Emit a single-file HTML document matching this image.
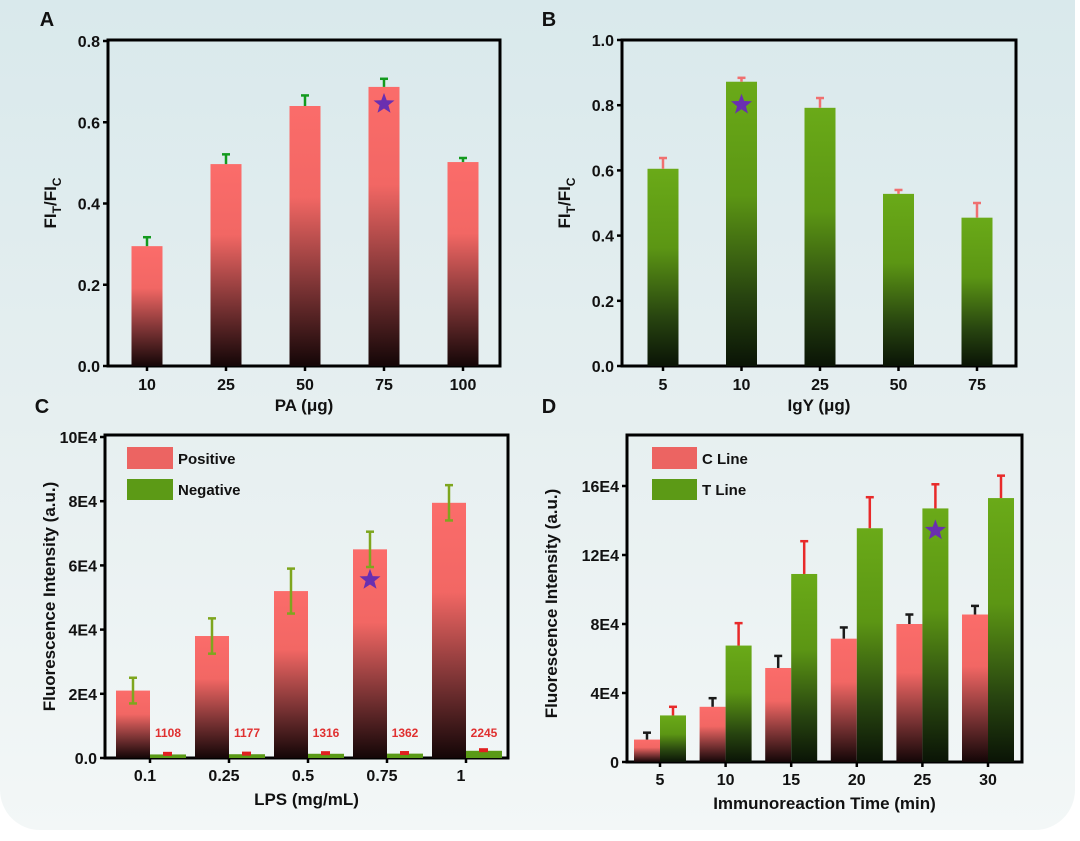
<!DOCTYPE html>
<html><head><meta charset="utf-8"><style>
html,body{margin:0;padding:0;background:#fff}
#wrap{position:relative;width:1080px;height:841px;overflow:hidden;background:#fff}
#bg{position:absolute;left:0;top:0;width:1075px;height:830px;border-radius:0 0 40px 40px;background:linear-gradient(180deg,#d9e9ec 0%,#e6eff0 50%,#f3f7f7 100%)}
svg{position:absolute;left:0;top:0}
text{font-family:"Liberation Sans",sans-serif;font-weight:bold;fill:#111}
text.red{fill:#e03030}
</style></head><body>
<div id="wrap">
<div id="bg"></div>
<svg id="svg" width="1080" height="841">
<defs>
<linearGradient id="gRed" x1="0" y1="0" x2="0" y2="1"><stop offset="0" stop-color="#fb6c6a"/><stop offset="0.35" stop-color="#f26764"/><stop offset="0.7" stop-color="#7a3334"/><stop offset="1" stop-color="#140607"/></linearGradient>
<linearGradient id="gGreen" x1="0" y1="0" x2="0" y2="1"><stop offset="0" stop-color="#6aaa18"/><stop offset="0.4" stop-color="#5c9614"/><stop offset="0.75" stop-color="#284510"/><stop offset="1" stop-color="#0a1406"/></linearGradient>
</defs>
</svg>
</div>
<script>
// Panel A data
const aCats=["10","25","50","75","100"];
const aVals=[0.295,0.497,0.640,0.687,0.502];
const aErr=[0.022,0.024,0.026,0.02,0.01];
const aTicks=[0,0.2,0.4,0.6,0.8];
// Panel B data
const bCats=["5","10","25","50","75"];
const bVals=[0.605,0.872,0.792,0.528,0.455];
const bErr=[0.033,0.012,0.03,0.012,0.045];
const bTicks=[0,0.2,0.4,0.6,0.8,1.0];
// Panel C data
const cCats=["0.1","0.25","0.5","0.75","1"];
const cPos=[21000,38000,52000,65000,79500];
const cPosErr=[4000,5500,7000,5500,5500];
const cNeg=[1108,1177,1316,1362,2245];
const cNegErr=[500,500,500,500,500];
const cTicks=[0,20000,40000,60000,80000,100000];
const cTickLabels=["0.0","2E4","4E4","6E4","8E4","10E4"];
// Panel D data
const dCats=["5","10","15","20","25","30"];
const dC=[13000,32000,54500,71500,80000,85500];
const dCErr=[4000,5000,7000,6500,5500,5000];
const dT=[27000,67500,109000,135500,147000,153000];
const dTErr=[5000,13000,19000,18000,14000,13000];
const dTicks=[0,40000,80000,120000,160000];
const dTickLabels=["0","4E4","8E4","12E4","16E4"];

const svg=document.getElementById('svg');
const NS="http://www.w3.org/2000/svg";
function mk(tag,attrs,parent){const e=document.createElementNS(NS,tag);for(const k in attrs)e.setAttribute(k,attrs[k]);(parent||svg).appendChild(e);return e;}
function txt(s,x,y,size,anchor,parent,cls){const t=mk('text',{x:x,y:y,'font-size':size,'text-anchor':anchor||'middle'},parent);if(cls)t.setAttribute('class',cls);t.textContent=s;return t;}
function star(cx,cy,r,parent){let p=[];for(let i=0;i<10;i++){const a=-Math.PI/2+i*Math.PI/5;const rr=i%2?r*0.42:r;p.push((cx+rr*Math.cos(a)).toFixed(1)+','+(cy+rr*Math.sin(a)).toFixed(1));}
const s=mk('polygon',{points:p.join(' '),fill:'#6a2fb0'},parent);

}
function errbar(x,y1,y2,color,parent,name){const g=mk('g',{stroke:color,'stroke-width':2.5},parent);


mk('line',{x1:x,y1:y1,x2:x,y2:y2},g);mk('line',{x1:x-4,y1:y2,x2:x+4,y2:y2},g);}
function axes(p,name){const g=mk('g',{},svg);


const box=mk('rect',{x:p.L,y:p.T,width:p.R-p.L,height:p.B-p.T,fill:'none',stroke:'#000','stroke-width':3},g);


return g;}
function yAxis(g,ticks,labels,ys,L,name){const ga=mk('g',{},g);


ticks.forEach((t,i)=>{const y=ys(t);mk('line',{x1:L-5,y1:y,x2:L,y2:y,stroke:'#000','stroke-width':2.5},ga);txt(labels[i],L-8,y+6,16,'end',ga);});}
function letter(s,x,y){const t=txt(s,x,y,20,'middle');

}
function ytitle(s,x,y,g,sub){const t=mk('text',{transform:`translate(${x},${y}) rotate(-90)`,'font-size':17,'text-anchor':'middle'},g);


if(sub){t.innerHTML='FI<tspan font-size="12" dy="5">T</tspan><tspan dy="-5">/FI</tspan><tspan font-size="12" dy="5">C</tspan>';}else t.textContent=s;}
function xtitle(s,x,y,g){const t=txt(s,x,y,17,'middle',g);

}

function single(p,cats,vals,errs,ticks,fill,ecol,starIdx,starOff,xt,name){
 const ys=v=>p.B-(v-0)/(p.max)*(p.B-p.Y1);
 const g=axes(p,name);
 const bw=31;
 cats.forEach((c,i)=>{const cx=p.c0+p.step*i;
  const r=mk('rect',{x:cx-bw/2,y:ys(vals[i]),width:bw,height:p.B-ys(vals[i]),fill:fill},g);
  
  
  errbar(cx,ys(vals[i]),ys(vals[i]+errs[i]),ecol,g,'error-bar-'+c);
  mk('line',{x1:cx,y1:p.B,x2:cx,y2:p.B+5,stroke:'#000','stroke-width':2.5},g);
  txt(c,cx,p.B+24,16,'middle',g);
  if(i===starIdx)star(cx,ys(vals[i])+starOff,11,g);
 });
 yAxis(g,ticks,ticks.map(t=>t.toFixed(1)),ys,p.L,'y-axis');
 ytitle('',p.L-52,(p.T+p.B)/2,g,true);
 xtitle(xt,(p.L+p.R)/2,p.B+45,g);
}
letter('A',47,26);
single({L:108,R:500,T:40,B:366,Y1:41,max:0.8,c0:147,step:79},aCats,aVals,aErr,aTicks,'url(#gRed)','#139a1e',3,17,'PA (μg)','panel-a');
letter('B',549,26);
single({L:622,R:1016,T:40,B:366,Y1:40,max:1.0,c0:663,step:78.5},bCats,bVals,bErr,bTicks,'url(#gGreen)','#f07070',1,23,'IgY (μg)','panel-b');

// Panel C
letter('C',42,413);
(function(){
 const p={L:105,R:508,T:435,B:758,Y1:437,max:100000};
 const ys=v=>p.B-v/p.max*(p.B-p.Y1);
 const g=axes(p,'panel-c');
 cCats.forEach((c,i)=>{const cx=150+79*i;
  const r=mk('rect',{x:cx-34,y:ys(cPos[i]),width:34,height:p.B-ys(cPos[i]),fill:'url(#gRed)'},g);
  
  
  errbar(cx-17,ys(cPos[i]-cPosErr[i]),ys(cPos[i]+cPosErr[i]),'#7ea61e',g,'error-bar-positive-'+c);
  mk('line',{x1:cx-21,y1:ys(cPos[i]-cPosErr[i]),x2:cx-13,y2:ys(cPos[i]-cPosErr[i]),stroke:'#7ea61e','stroke-width':2.5},g);
  const n=mk('rect',{x:cx,y:ys(cNeg[i]),width:36,height:p.B-ys(cNeg[i]),fill:'#5a9a16'},g);
  
  
  mk('rect',{x:cx+13,y:ys(cNeg[i]+cNegErr[i])-1,width:9,height:4,fill:'#e02020'},g);
  const lt=txt(String(cNeg[i]),cx+18,737,12,'middle',g,'red');
  
  
  mk('line',{x1:cx,y1:p.B,x2:cx,y2:p.B+5,stroke:'#000','stroke-width':2.5},g);
  txt(c,cx-5,p.B+23,16,'middle',g);
  if(i===3)star(cx-17,ys(55500),11,g);
 });
 yAxis(g,cTicks,cTickLabels,ys,p.L,'y-axis');
 ytitle('Fluorescence Intensity (a.u.)',55,(p.T+p.B)/2,g,false);
 xtitle('LPS (mg/mL)',(p.L+p.R)/2,p.B+47,g);
 const lg=mk('g',{},g);
 
 
 mk('rect',{x:127,y:447,width:46,height:22,fill:'#ec6462'},lg);txt('Positive',178,464,15,'start',lg);
 mk('rect',{x:127,y:479,width:46,height:21,fill:'#5c9a16'},lg);txt('Negative',178,495,15,'start',lg);
})();

// Panel D
letter('D',549,413);
(function(){
 const p={L:627,R:1022,T:435,B:762,Y1:486,max:160000};
 const ys=v=>p.B-v/p.max*(p.B-p.Y1);
 const g=axes(p,'panel-d');
 dCats.forEach((c,i)=>{const cx=660+65.6*i;
  const r=mk('rect',{x:cx-26,y:ys(dC[i]),width:26,height:p.B-ys(dC[i]),fill:'url(#gRed)'},g);
  
  
  errbar(cx-13,ys(dC[i]),ys(dC[i]+dCErr[i]),'#1a1a1a',g,'error-bar-c-'+c);
  const t=mk('rect',{x:cx,y:ys(dT[i]),width:26,height:p.B-ys(dT[i]),fill:'url(#gGreen)'},g);
  
  
  errbar(cx+13,ys(dT[i]),ys(dT[i]+dTErr[i]),'#e82a2a',g,'error-bar-t-'+c);
  mk('line',{x1:cx,y1:p.B,x2:cx,y2:p.B+5,stroke:'#000','stroke-width':2.5},g);
  txt(c,cx,p.B+23,16,'middle',g);
  if(i===4)star(cx+13,ys(dT[i])+22,11,g);
 });
 yAxis(g,dTicks,dTickLabels,ys,p.L,'y-axis');
 ytitle('Fluorescence Intensity (a.u.)',557,(p.T+p.B)/2+5,g,false);
 xtitle('Immunoreaction Time (min)',(p.L+p.R)/2,p.B+47,g);
 const lg=mk('g',{},g);
 
 
 mk('rect',{x:652,y:447,width:45,height:22,fill:'#ec6462'},lg);txt('C Line',702,464,15,'start',lg);
 mk('rect',{x:652,y:479,width:45,height:21,fill:'#5c9a16'},lg);txt('T Line',702,495,15,'start',lg);
})();
</script>
</body></html>
